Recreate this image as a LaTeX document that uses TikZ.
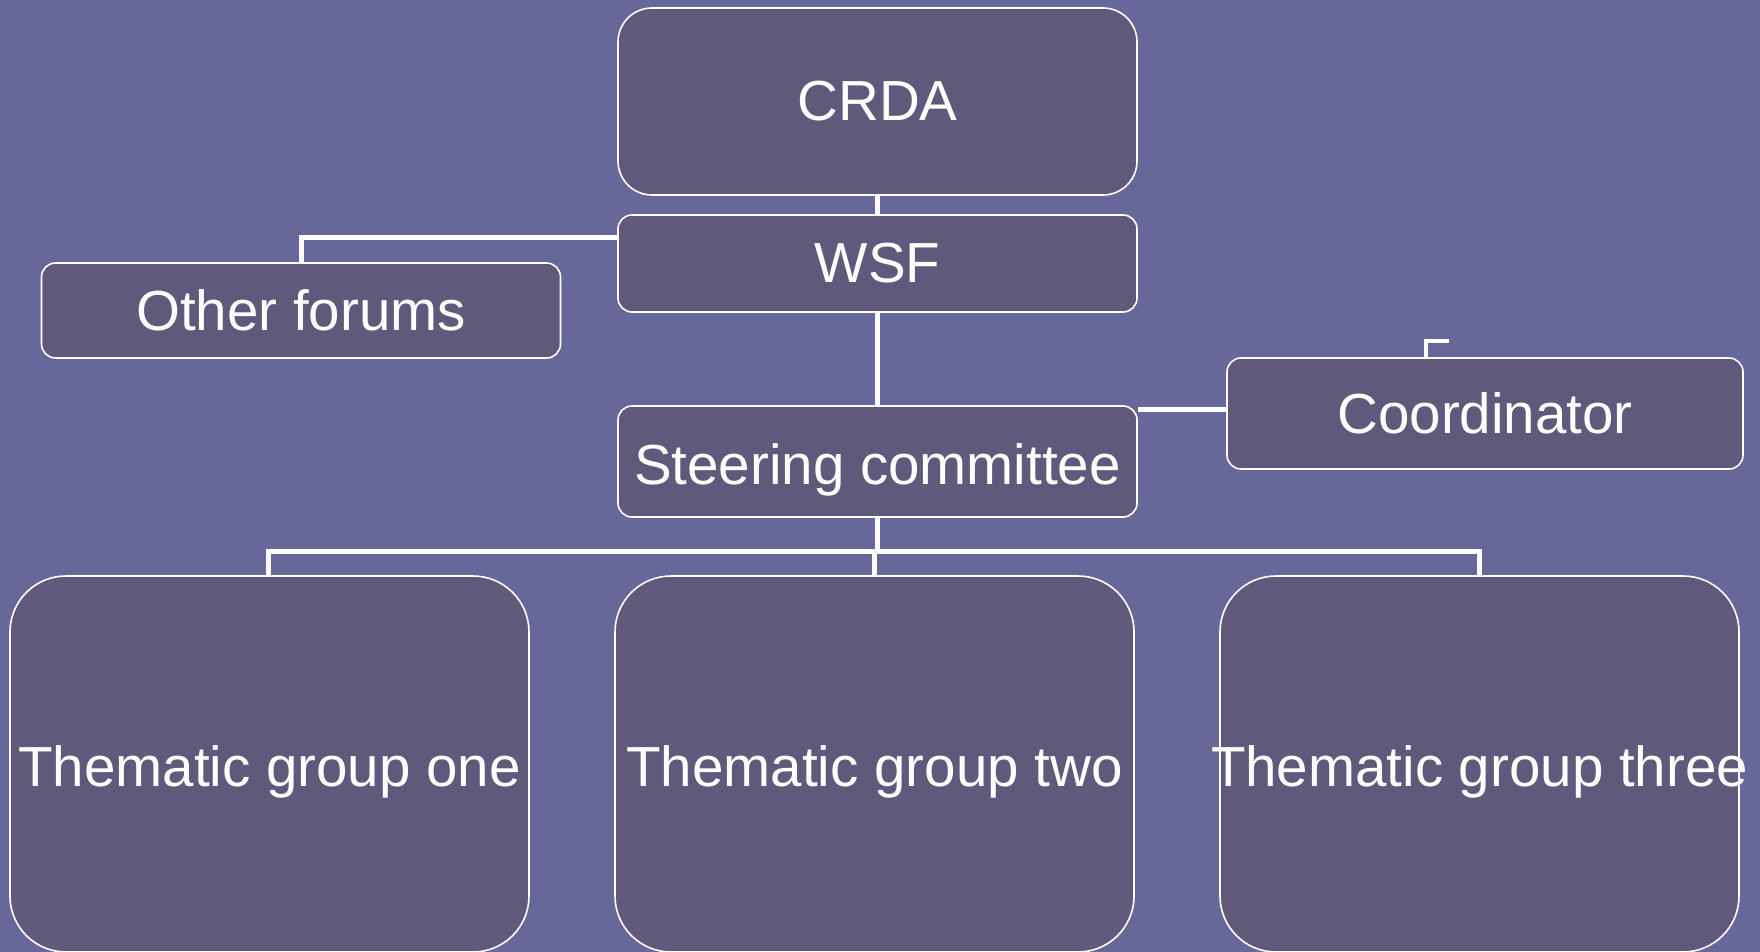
\documentclass[tikz,border=0pt]{standalone}
\usepackage{fontspec}
\setmainfont{Liberation Sans}
\usetikzlibrary{calc}
\definecolor{bgcol}{RGB}{103,103,153}
\definecolor{boxcol}{RGB}{97,89,124}
\newcommand{\lowtext}[2]{\smash{\raisebox{-#1}{\makebox[0pt]{#2}}}}
\tikzset{
  orgbox/.style={draw=white, line width=1.6pt, fill=boxcol, text=white, font=\fontsize{56.5}{64}\selectfont,
    minimum width=519pt, inner sep=0pt, rounded corners=14pt},
  link/.style={draw=white, line width=5pt}
}
\begin{document}
\begin{tikzpicture}[x=1pt,y=-1pt]
\fill[bgcol] (0,0) rectangle (1760,952);
\useasboundingbox (0,0) rectangle (1760,952);
\coordinate (busL) at (268,551);
\coordinate (busR) at (1479,551);
\node[orgbox, minimum height=187pt, rounded corners=34pt] (crda) at (877.5,101.5) {CRDA};
\node[orgbox, minimum height=97pt] (wsf) at (877.5,263.5) {WSF};
\node[orgbox, minimum height=95pt] (other) at (301,310.5) {Other forums};
\node[orgbox, minimum height=111pt] (steer) at (877.5,461.5) {\lowtext{23pt}{Steering committee}};
\node[orgbox, minimum width=516pt, minimum height=111pt] (coord) at (1485,413.5) {Coordinator};
\node[orgbox, minimum height=376pt, rounded corners=56pt] (t1) at (269.5,764) {\lowtext{22pt}{Thematic group one}};
\node[orgbox, minimum height=376pt, rounded corners=56pt] (t2) at (874.5,764) {\lowtext{22pt}{Thematic group two}};
\node[orgbox, minimum height=376pt, rounded corners=56pt] (t3) at (1479.5,764) {\lowtext{22pt}{Thematic group three}};
\coordinate (stub) at (1449,341);
\draw[link] (crda.south) -- (wsf.north);
\draw[link] ($(wsf.north west)+(0,23)$) -| (other.north);
\draw[link] (wsf.south) -- (steer.north);
\draw[link] ($(steer.north east)+(0,4)$) -- ($(coord.north west)+(0,52)$);
\draw[link, line width=4pt] ($(coord.north)+(-59.5,0)$) |- (stub);
\draw[link] (steer.south) -- (steer.south |- busL);
\draw[link, line cap=rect] (busL) -- (busR);
\draw[link] (busL) -- (busL |- t1.north);
\draw[link] (t2.north |- busL) -- (t2.north);
\draw[link] (busR) -- (busR |- t3.north);
\end{tikzpicture}
\end{document}
